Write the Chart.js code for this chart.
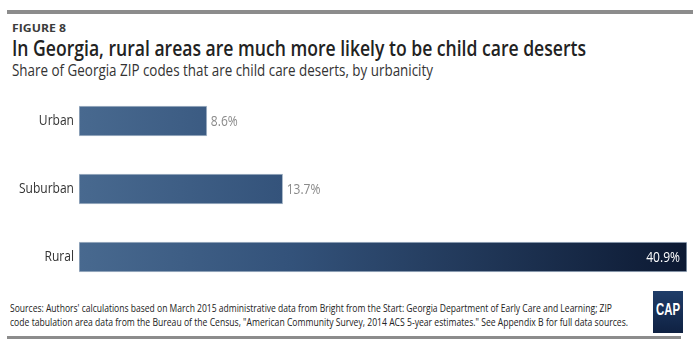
<!DOCTYPE html>
<html>
<head>
<meta charset="utf-8">
<script src="https://cdn.jsdelivr.net/npm/chart.js@4.4.0/dist/chart.umd.min.js"></script>
<style>
  html, body { margin: 0; padding: 0; background: #fff; }
  body { width: 693px; height: 342px; position: relative; overflow: hidden; font-family: "Open Sans", sans-serif; }
  .rule { position: absolute; background: #8c8c8c; }
  .fit { position: absolute; white-space: nowrap; transform-origin: 0 0; }
  #fig { left: 12px; top: 20px; font-size: 11px; font-weight: 700; color: #3c3c3c; }
  #title { left: 12px; top: 34px; font-size: 21px; font-weight: 600; color: #222; }
  #subtitle { left: 12px; top: 59px; font-size: 15.5px; color: #333; }
  #src1 { left: 10px; top: 300px; font-size: 11px; color: #222; }
  #src2 { left: 10px; top: 314px; font-size: 11px; color: #222; }
  #chart { position: absolute; left: 0; top: 84px; }
  #logo { position: absolute; left: 653px; top: 291px; width: 30px; height: 42px; background: linear-gradient(#1f3d69, #0f2142); overflow: hidden; }
  #logoText { position: absolute; left: 3px; top: 9px; color: #fff; font-family: "Liberation Sans", sans-serif; font-weight: bold; font-size: 17px; }
</style>
</head>
<body>
<div class="rule" style="left:7px; top:10px; width:686px; height:4px;"></div>
<div id="fig" class="fit">FIGURE 8</div>
<div id="title" class="fit">In Georgia, rural areas are much more likely to be child care deserts</div>
<div id="subtitle" class="fit">Share of Georgia ZIP codes that are child care deserts, by urbanicity</div>
<canvas id="chart" width="693" height="210"></canvas>
<div id="src1" class="fit">Sources: Authors' calculations based on March 2015 administrative data from Bright from the Start: Georgia Department of Early Care and Learning; ZIP</div>
<div id="src2" class="fit">code tabulation area data from the Bureau of the Census, "American Community Survey, 2014 ACS 5-year estimates." See Appendix B for full data sources.</div>
<div id="logo"><div id="logoText" class="fit">CAP</div></div>
<div class="rule" style="left:7px; top:336px; width:674px; height:3px;"></div>
<script>
// données
const categories = ["Urban", "Suburban", "Rural"];
const shares = [8.6, 13.7, 40.9];
const valueLabels = ["8.6%", "13.7%", "40.9%"];

// police étroite simulée : on comprime le texte à la largeur voulue
function fitWidth(id, width) {
    const el = document.getElementById(id);
    const w = el.getBoundingClientRect().width;
    el.style.transform = "scaleX(" + (width / w) + ")";
}
fitWidth("fig", 54);
fitWidth("title", 574);
fitWidth("subtitle", 421);
fitWidth("src1", 602);
fitWidth("src2", 618);
fitWidth("logoText", 24);

// dégradé horizontal sur toute la zone du graphique
function barGradient(context) {
    const chart = context.chart;
    const area = chart.chartArea;
    if (!area) return "#3c5c82";
    const g = chart.ctx.createLinearGradient(area.left, 0, area.right, 0);
    g.addColorStop(0, "#48698f");
    g.addColorStop(0.35, "#33527a");
    g.addColorStop(1, "#0c1932");
    return g;
}

// texte comprimé horizontalement sur le canvas
function drawNarrow(ctx, text, x, y, align, squeeze) {
    ctx.save();
    ctx.translate(x, y);
    ctx.scale(squeeze, 1);
    ctx.textAlign = align;
    ctx.fillText(text, 0, 0);
    ctx.restore();
}

// étiquettes de valeur et de catégorie
const labelPlugin = {
    id: "labels",
    afterDatasetsDraw(chart) {
        const ctx = chart.ctx;
        const meta = chart.getDatasetMeta(0);
        ctx.save();
        ctx.textBaseline = "middle";
        ctx.font = "14px 'Open Sans', sans-serif";
        meta.data.forEach((bar, i) => {
            ctx.fillStyle = "#333";
            drawNarrow(ctx, categories[i], bar.base - 5, bar.y, "right", 0.86);
            if (i === shares.length - 1) {
                ctx.fillStyle = "#ffffff";
                drawNarrow(ctx, valueLabels[i], bar.x - 7, bar.y + 1, "right", 0.86);
            } else {
                ctx.fillStyle = "#8a8a8a";
                drawNarrow(ctx, valueLabels[i], bar.x + 4, bar.y + 1, "left", 0.86);
            }
        });
        ctx.restore();
    }
};

new Chart(document.getElementById("chart"), {
    type: "bar",
    data: {
        labels: categories,
        datasets: [{
            data: shares,
            backgroundColor: barGradient,
            borderColor: "#a9b8c9",
            borderWidth: 1,
            borderSkipped: false,
            barThickness: 30
        }]
    },
    options: {
        indexAxis: "y",
        responsive: false,
        animation: false,
        layout: { padding: { top: 3, bottom: 3, right: 6, left: 79 } },
        plugins: { legend: { display: false }, tooltip: { enabled: false } },
        scales: {
            x: { display: false, min: 0, max: 40.9 },
            y: { display: false }
        }
    },
    plugins: [labelPlugin]
});
</script>
</body>
</html>
